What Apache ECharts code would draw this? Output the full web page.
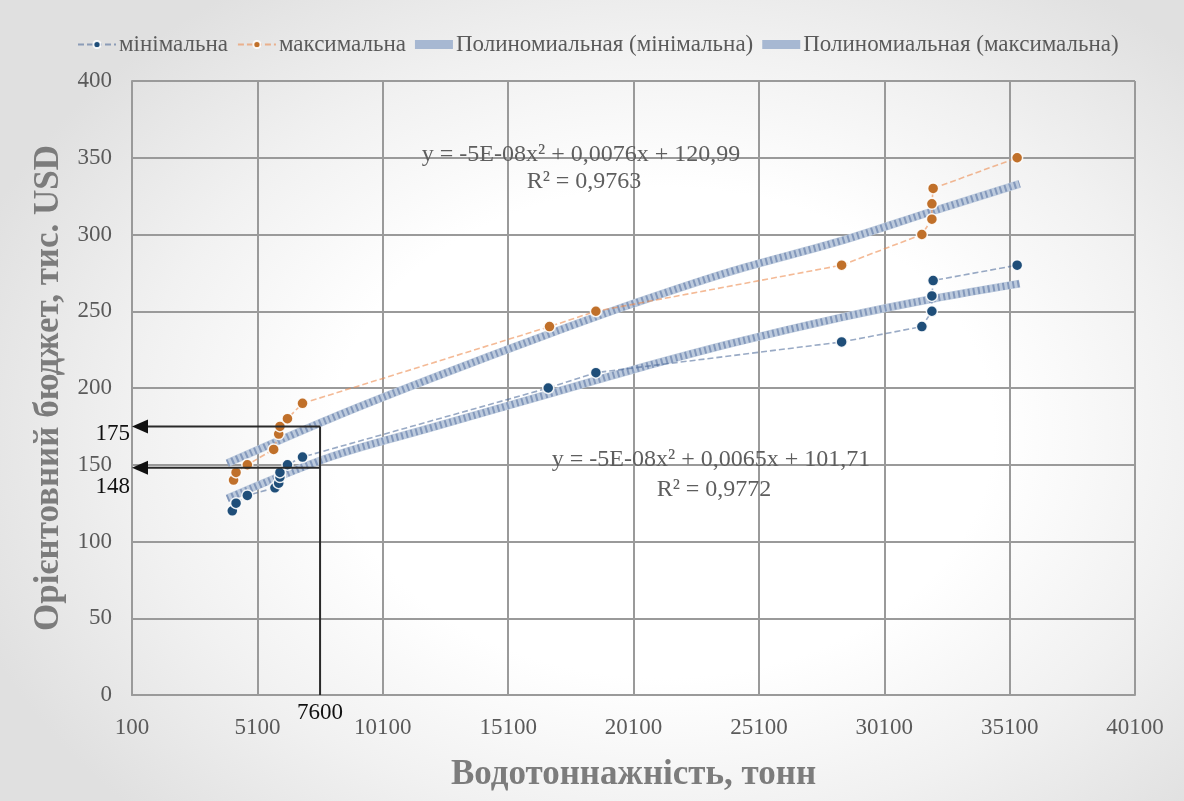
<!DOCTYPE html>
<html>
<head>
<meta charset="utf-8">
<script src="https://cdn.jsdelivr.net/npm/echarts@6/dist/echarts.min.js"></script>
<style>
html,body{margin:0;padding:0;width:1184px;height:801px;overflow:hidden;}
body{background: radial-gradient(ellipse 62% 68% at 56% 54%, #ffffff 0%, #ffffff 45%, #f1f1f1 72%, #e0e0e0 100%);}
#c{width:1184px;height:801px;}
</style>
</head>
<body>
<div id="c"></div>
<script>
// ---- data ----
const seriesNames = ['мінімальна', 'максимальна', 'Полиномиальная (мінімальна)', 'Полиномиальная (максимальна)'];

const minX = [4100, 4250, 4700, 5800, 5950, 6000, 6000, 6300, 6900, 16700, 18600, 28400, 31600, 32000, 32000, 32050, 35400];
const minY = [120, 125, 130, 135, 138, 142, 145, 150, 155, 200, 210, 230, 240, 250, 260, 270, 280];

const maxX = [4150, 4250, 4700, 5750, 5950, 6000, 6300, 6900, 16750, 18600, 28400, 31600, 32000, 32000, 32050, 35400];
const maxY = [140, 145, 150, 160, 170, 175, 180, 190, 240, 250, 280, 300, 310, 320, 330, 350];

const trendX = [3900, 8000, 12000, 16700, 20100, 24000, 28400, 32000, 35500];
const trendMinY = [128, 155, 174, 196, 212, 229, 246, 258, 268];
const trendMaxY = [151, 180, 206, 235, 255, 276, 296, 315, 333];

const xMin = 100, xMax = 40100, xStep = 5000;
const yMin = 0, yMax = 400, yStep = 50;

const annotX = 7600;
const annotY = [175, 148];

const eqMax = ['y = -5E-08x² + 0,0076x + 120,99', 'R² = 0,9763'];
const eqMin = ['y = -5E-08x² + 0,0065x + 101,71', 'R² = 0,9772'];

const xTitle = 'Водотоннажність, тонн';
const yTitle = 'Орієнтовний бюджет, тис. USD';

// ---- helpers ----
const zip = (a, b) => a.map((v, i) => [v, b[i]]);
const FONT = '"Liberation Serif", "Times New Roman", serif';
const TXT = '#5a5a5a';
const GRID = '#9a9a9a';
const TREND_BASE = '#bccadd';

const chart = echarts.init(document.getElementById('c'), null, {renderer: 'canvas'});

function trendSeries(name, data, hatchName) {
  return [
    {
      name: name, type: 'line', data: data, smooth: 0.35, symbol: 'none', z: 2,
      lineStyle: {width: 8, color: TREND_BASE}, itemStyle: {color: '#9fb2cf'},
      emphasis: {disabled: true}, silent: true
    },
    {
      name: hatchName, type: 'line', data: data, smooth: 0.35, symbol: 'none', z: 3,
      lineStyle: {width: 7, color: 'rgba(112,135,175,0.75)', type: [2, 3]},
      emphasis: {disabled: true}, silent: true
    }
  ];
}

const option = {
  animation: false,
  textStyle: {fontFamily: FONT},
  legend: {
    data: [
      {name: seriesNames[0]},
      {name: seriesNames[1]},
      {name: seriesNames[2], icon: 'rect', itemStyle: {color: '#a7b8d2'}},
      {name: seriesNames[3], icon: 'rect', itemStyle: {color: '#a7b8d2'}}
    ],
    top: 28, left: 72,
    itemWidth: 38, itemHeight: 9, itemGap: 9,
    textStyle: {fontFamily: FONT, fontSize: 23, color: TXT, padding: [0, 0, 0, -2]}
  },
  grid: {left: 132, right: 49, top: 81, bottom: 106, containLabel: false},
  xAxis: {
    type: 'value', min: xMin, max: xMax, interval: xStep,
    name: xTitle, nameLocation: 'middle', nameGap: 62,
    nameTextStyle: {fontFamily: FONT, fontSize: 35, fontWeight: 'bold', color: '#7c7c7c'},
    axisLine: {show: true, lineStyle: {color: GRID, width: 2}},
    axisTick: {show: false},
    axisLabel: {fontFamily: FONT, fontSize: 23, color: TXT, margin: 21, formatter: (v) => String(v)},
    splitLine: {show: true, lineStyle: {color: GRID, width: 2}}
  },
  yAxis: {
    type: 'value', min: yMin, max: yMax, interval: yStep,
    name: yTitle, nameLocation: 'middle', nameGap: 60, nameRotate: 90,
    nameTextStyle: {fontFamily: FONT, fontSize: 35, fontWeight: 'bold', color: '#7c7c7c'},
    axisLine: {show: true, lineStyle: {color: GRID, width: 2}},
    axisTick: {show: false},
    axisLabel: {fontFamily: FONT, fontSize: 23, color: TXT, margin: 20, formatter: (v) => String(v)},
    splitLine: {show: true, lineStyle: {color: GRID, width: 2}}
  },
  series: [
    {
      name: seriesNames[0], type: 'line', data: zip(minX, minY), z: 5,
      symbol: 'circle', symbolSize: 11,
      itemStyle: {color: '#1f4e79', borderColor: 'rgba(255,255,255,0.9)', borderWidth: 1.5},
      lineStyle: {width: 1.6, type: [6, 3], color: 'rgba(70,100,150,0.55)'}
    },
    {
      name: seriesNames[1], type: 'line', data: zip(maxX, maxY), z: 5,
      symbol: 'circle', symbolSize: 11,
      itemStyle: {color: '#c0702a', borderColor: 'rgba(255,255,255,0.9)', borderWidth: 1.5},
      lineStyle: {width: 1.6, type: [6, 3], color: 'rgba(236,140,80,0.6)'}
    },
    ...trendSeries(seriesNames[2], zip(trendX, trendMinY), 'hatchMin'),
    ...trendSeries(seriesNames[3], zip(trendX, trendMaxY), 'hatchMax')
  ]
};
chart.setOption(option);

// ---- annotations positioned through the chart's own scales ----
const px = (x, y) => chart.convertToPixel({gridIndex: 0}, [x, y]);
const g = [];
const vTop = px(annotX, annotY[0]);
const vBot = px(annotX, yMin);
g.push({type: 'line', shape: {x1: vTop[0], y1: vTop[1], x2: vBot[0], y2: vBot[1]}, style: {stroke: '#2a2a2a', lineWidth: 2}, z: 20});
const labelOffsets = [8, 19];
annotY.forEach((v, i) => {
  const a = px(annotX, v);
  const tip = px(xMin, v);
  g.push({type: 'line', shape: {x1: a[0], y1: a[1], x2: tip[0] + 10, y2: tip[1]}, style: {stroke: '#2a2a2a', lineWidth: 2}, z: 20});
  g.push({type: 'polygon', shape: {points: [[tip[0], tip[1]], [tip[0] + 16, tip[1] - 7], [tip[0] + 16, tip[1] + 7]]}, style: {fill: '#111'}, z: 21});
  g.push({type: 'text', x: tip[0] - 2, y: tip[1] + labelOffsets[i], style: {text: String(v), font: '23px ' + FONT, fill: '#111', textAlign: 'right', textVerticalAlign: 'middle'}, z: 21});
});
g.push({type: 'text', x: vBot[0], y: vBot[1] + 18, style: {text: String(annotX), font: '23px ' + FONT, fill: '#111', textAlign: 'center', textVerticalAlign: 'middle'}, z: 21});

// equation labels
const eqStyle = (t) => ({text: t, font: '24px ' + FONT, fill: '#5e5e5e', textAlign: 'center', textVerticalAlign: 'middle'});
g.push({type: 'text', x: 581, y: 155, style: eqStyle(eqMax[0]), z: 22});
g.push({type: 'text', x: 584, y: 182, style: eqStyle(eqMax[1]), z: 22});
g.push({type: 'text', x: 711, y: 460, style: eqStyle(eqMin[0]), z: 22});
g.push({type: 'text', x: 714, y: 490, style: eqStyle(eqMin[1]), z: 22});

chart.setOption({graphic: {elements: g}});
</script>
</body>
</html>
